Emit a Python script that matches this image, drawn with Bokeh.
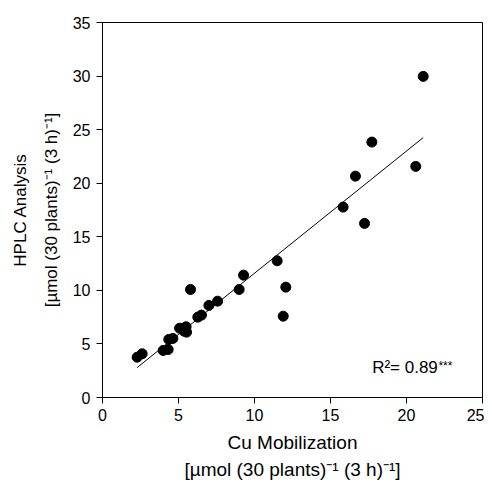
import numpy as np
from bokeh.plotting import figure
from bokeh.models import Range1d, Label, FixedTicker, Title
from bokeh.embed import file_html
from bokeh.resources import INLINE

cu_mobilization = [2.28, 2.61, 3.99, 4.32, 4.36, 4.63, 5.07, 5.29, 5.50, 5.53, 5.35,
                   5.79, 6.27, 6.51, 7.00, 7.57, 8.99, 9.28, 11.49, 11.89, 12.06,
                   15.83, 17.24, 16.64, 17.72, 20.61, 21.10]
hplc_analysis = [3.76, 4.08, 4.39, 4.48, 5.42, 5.51, 6.47, 6.44, 6.60, 6.10, 6.20,
                 10.08, 7.50, 7.69, 8.59, 8.99, 10.08, 11.42, 12.76, 7.59, 10.30,
                 17.77, 16.25, 20.66, 23.84, 21.57, 29.97]
x_ticks = [0, 5, 10, 15, 20, 25]
y_ticks = [0, 5, 10, 15, 20, 25, 30, 35]

FONT = "Liberation Sans"

p = figure(width=484, height=482, output_backend="svg", toolbar_location=None,
           x_range=Range1d(0, 25), y_range=Range1d(0, 35),
           min_border_left=102, min_border_right=2, min_border_top=22, min_border_bottom=85)
p.grid.visible = False
p.outline_line_color = "black"
p.outline_line_width = 1
p.background_fill_color = "white"
p.border_fill_color = "white"

for ax, ticks in ((p.xaxis, x_ticks), (p.yaxis, y_ticks)):
    ax.ticker = FixedTicker(ticks=ticks)
    ax.minor_tick_line_color = None
    ax.major_tick_out = 6
    ax.major_tick_in = 0
    ax.axis_line_color = "black"
    ax.major_tick_line_color = "black"
    ax.major_label_text_font = FONT
    ax.major_label_text_font_size = "16px"
    ax.major_label_text_color = "black"
p.xaxis.major_label_standoff = 5
p.yaxis.major_label_standoff = 6

def title(text, place, size, offset, standoff):
    t = Title(text=text, align="center", offset=offset, standoff=standoff,
              text_font=FONT, text_font_size=size, text_font_style="normal",
              text_color="black")
    p.add_layout(t, place)

# y-axis label: inner line first
title("[µmol (30 plants)⁻¹ (3 h)⁻¹]", "left", "17px", 38, 18)
title("HPLC Analysis", "left", "17px", 26, 2)
# x-axis label
title("Cu Mobilization", "below", "19px", 7, 13)
title("[µmol (30 plants)⁻¹ (3 h)⁻¹]", "below", "19px", 12, -6)

# regression line
slope, intercept = np.polyfit(cu_mobilization, hplc_analysis, 1)
xl = np.array([min(cu_mobilization), max(cu_mobilization)])
p.line(xl, slope * xl + intercept, line_color="black", line_width=1)

p.scatter(cu_mobilization, hplc_analysis, size=10, fill_color="black", line_color="black")

def lab(text, x, y, size):
    p.add_layout(Label(x=x, y=y, text=text, text_font=FONT, text_font_size=size,
                       text_align="left", text_baseline="alphabetic", text_color="black"))

# R^2 annotation
lab("R²= 0.89", 17.74, 2.8, "17px")
lab("***", 22.1, 2.95, "12px")

open("out.html", "w").write(file_html(p, INLINE))
